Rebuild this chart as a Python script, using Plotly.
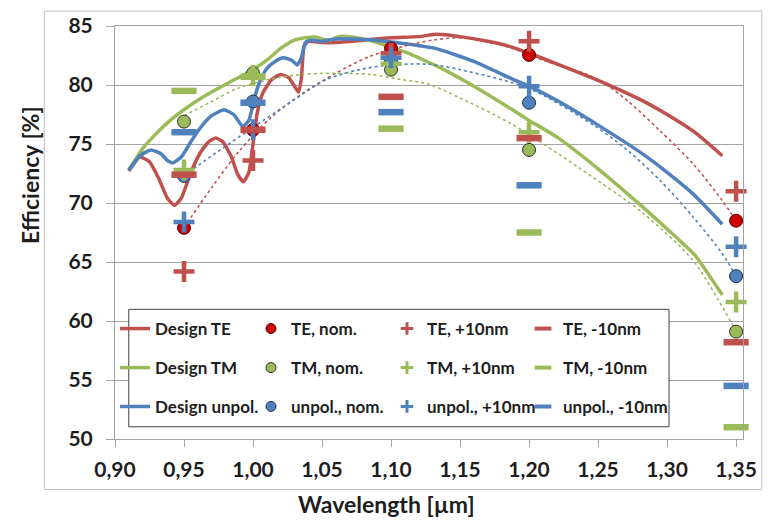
import plotly.graph_objects as go

# ---------------- data ----------------
# Design curves (solid)
te_x = [0.910, 0.918, 0.925, 0.932, 0.938, 0.943, 0.948, 0.955, 0.962, 0.968, 0.973, 0.978,
        0.984, 0.989, 0.993, 0.997, 1.000, 1.003, 1.007, 1.013, 1.020, 1.026, 1.030, 1.033,
        1.035, 1.037, 1.040, 1.050, 1.060, 1.080, 1.100, 1.120, 1.133, 1.150, 1.170, 1.185,
        1.200, 1.220, 1.250, 1.280, 1.300, 1.320, 1.340]
te_y = [72.7, 73.9, 73.5, 72.0, 70.4, 69.8, 70.4, 72.6, 74.3, 75.2, 75.5, 75.2,
        74.0, 72.4, 71.8, 72.6, 75.0, 77.6, 79.3, 80.4, 80.9, 80.6, 79.9, 79.4,
        80.5, 83.3, 83.7, 83.6, 83.6, 83.8, 84.0, 84.1, 84.3, 84.1, 83.7, 83.3,
        82.7, 81.8, 80.4, 78.8, 77.5, 76.0, 74.0]

tm_x = [0.910, 0.920, 0.930, 0.940, 0.950, 0.960, 0.970, 0.984, 1.000, 1.010, 1.020, 1.030,
        1.038, 1.046, 1.052, 1.056, 1.062, 1.070, 1.080, 1.090, 1.100, 1.110, 1.124, 1.140,
        1.160, 1.188, 1.200, 1.220, 1.250, 1.280, 1.300, 1.320, 1.340]
tm_y = [72.8, 74.6, 75.9, 77.0, 77.9, 78.7, 79.4, 80.3, 81.3, 82.1, 83.1, 83.8,
        84.0, 84.05, 83.85, 83.8, 84.1, 84.1, 83.9, 83.6, 83.2, 82.8, 82.1, 81.2,
        79.9, 77.9, 77.0, 75.6, 72.9, 69.9, 67.8, 65.6, 62.2]

un_x = [0.910, 0.918, 0.926, 0.933, 0.938, 0.942, 0.948, 0.955, 0.962, 0.970, 0.979, 0.986,
        0.9925, 0.997, 1.001, 1.005, 1.010, 1.016, 1.022, 1.028, 1.032, 1.035, 1.038, 1.042,
        1.050, 1.060, 1.070, 1.089, 1.110, 1.132, 1.160, 1.188, 1.200, 1.220, 1.250, 1.283,
        1.300, 1.319, 1.340]
un_y = [72.8, 74.0, 74.5, 74.2, 73.6, 73.4, 73.9, 75.2, 76.4, 77.4, 77.9, 77.5,
        76.5, 77.0, 78.9, 80.3, 81.4, 82.0, 82.3, 82.1, 81.7, 82.3, 83.6, 83.8,
        83.7, 83.9, 83.9, 83.8, 83.5, 83.1, 82.0, 80.5, 79.9, 78.7, 76.6, 74.1,
        72.6, 70.75, 68.2]

# Trend lines (dotted)
te_tr_x = [0.95, 0.97, 0.99, 1.0125, 1.036, 1.06, 1.084, 1.108, 1.13, 1.15, 1.17, 1.188,
           1.21, 1.248, 1.272, 1.295, 1.319, 1.34, 1.35]
te_tr_y = [67.9, 71.3, 74.4, 77.2, 79.3, 81.0, 82.4, 83.25, 83.8, 84.0, 83.7, 83.1,
           82.1, 80.6, 78.6, 76.1, 73.3, 70.2, 68.5]
tm_tr_x = [0.95, 0.97, 0.9885, 1.0125, 1.036, 1.06, 1.084, 1.108, 1.1265, 1.15, 1.188,
           1.236, 1.283, 1.319, 1.34, 1.35]
tm_tr_y = [77.4, 78.6, 79.7, 80.5, 80.9, 81.0, 80.9, 80.45, 80.1, 78.9, 76.65,
           73.0, 69.1, 65.1, 61.2, 59.1]
un_tr_x = [0.95, 0.97, 1.0, 1.03, 1.053, 1.077, 1.10, 1.127, 1.15, 1.20, 1.248, 1.272,
           1.295, 1.319, 1.34, 1.35]
un_tr_y = [72.3, 74.0, 76.4, 78.76, 80.45, 81.3, 81.7, 81.76, 81.3, 79.7, 76.5, 74.4,
           71.9, 68.8, 65.7, 63.8]

# Measured points
wl = [0.95, 1.00, 1.10, 1.20, 1.35]
te_nom = [67.9, 76.2, 83.1, 82.55, 68.5]
te_p10 = [64.2, 73.6, 82.7, 83.7, 71.0]
te_m10 = [72.4, 76.2, 79.0, 75.5, 58.2]
tm_nom = [76.9, 81.0, 81.3, 74.5, 59.1]
tm_p10 = [72.8, 80.8, 81.8, 76.0, 61.6]
tm_m10 = [79.5, 80.7, 76.3, 67.5, 51.0]
un_nom = [72.3, 78.6, 82.1, 78.5, 63.8]
un_p10 = [68.4, 76.2, 82.3, 79.9, 66.3]
un_m10 = [76.0, 78.5, 77.7, 71.5, 54.5]

x_ticks = [0.90, 0.95, 1.00, 1.05, 1.10, 1.15, 1.20, 1.25, 1.30, 1.35]
y_ticks = [50, 55, 60, 65, 70, 75, 80, 85]

# ---------------- styling ----------------
RED, GREEN, BLUE = '#C0504D', '#9BBB59', '#4F81BD'
FONT = 'Lato'
TXT = '#1e1e1e'

fig = go.Figure()
NONE = [None]

# design curves
for x, y, c, name, lg in [(te_x, te_y, RED, 'Design TE', 'legend'),
                          (tm_x, tm_y, GREEN, 'Design TM', 'legend2'),
                          (un_x, un_y, BLUE, 'Design unpol.', 'legend3')]:
    fig.add_trace(go.Scatter(x=x, y=y, mode='lines', name=name, legend=lg,
                             line=dict(color=c, width=3.5, shape='spline', smoothing=0.5)))

# trend lines
for x, y, c in [(te_tr_x, te_tr_y, RED), (tm_tr_x, tm_tr_y, GREEN), (un_tr_x, un_tr_y, BLUE)]:
    fig.add_trace(go.Scatter(x=x, y=y, mode='lines', showlegend=False, hoverinfo='skip',
                             line=dict(color=c, width=1.6, dash='dot', shape='spline', smoothing=0.8)))

circles = [(te_nom, '#CC0000', '#5a0000', 'TE, nom.', 'legend'),
           (tm_nom, GREEN, '#2e2e2e', 'TM, nom.', 'legend2'),
           (un_nom, BLUE, '#1f2f4a', 'unpol., nom.', 'legend3')]
pluses = [(te_p10, RED, 'TE, +10nm', 'legend'),
          (tm_p10, GREEN, 'TM, +10nm', 'legend2'),
          (un_p10, BLUE, 'unpol., +10nm', 'legend3')]
dashes = [(te_m10, RED, 'TE, -10nm', 'legend'),
          (tm_m10, GREEN, 'TM, -10nm', 'legend2'),
          (un_m10, BLUE, 'unpol., -10nm', 'legend3')]

# plotted markers (no legend)
for y, fill, edge, name, lg in circles:
    fig.add_trace(go.Scatter(x=wl, y=y, mode='markers', name=name, showlegend=False, cliponaxis=False,
                             marker=dict(symbol='circle', size=13, color=fill,
                                         line=dict(color=edge, width=1))))
for y, c, name, lg in pluses:
    fig.add_trace(go.Scatter(x=wl, y=y, mode='markers', name=name, showlegend=False, cliponaxis=False,
                             marker=dict(symbol='cross-thin', size=15, color=c,
                                         line=dict(color=c, width=4.5))))
for y, c, name, lg in dashes:
    fig.add_trace(go.Scatter(x=wl, y=y, mode='markers', name=name, showlegend=False, cliponaxis=False,
                             marker=dict(symbol='line-ew', size=18, color=c,
                                         line=dict(color=c, width=6.5))))

# legend entries with smaller symbols (as in the reference legend)
for y, fill, edge, name, lg in circles:
    fig.add_trace(go.Scatter(x=NONE, y=NONE, mode='markers', name=name, legend=lg,
                             marker=dict(symbol='circle', size=10, color=fill,
                                         line=dict(color=edge, width=1))))
for y, c, name, lg in pluses:
    fig.add_trace(go.Scatter(x=NONE, y=NONE, mode='markers', name=name, legend=lg,
                             marker=dict(symbol='cross-thin', size=9, color=c,
                                         line=dict(color=c, width=3))))
for y, c, name, lg in dashes:
    fig.add_trace(go.Scatter(x=NONE, y=NONE, mode='markers', name=name, legend=lg,
                             legendwidth=130,
                             marker=dict(symbol='line-ew', size=12, color=c,
                                         line=dict(color=c, width=4))))

legend_common = dict(orientation='h', xanchor='left', yanchor='middle', x=0.0,
                     bgcolor='rgba(0,0,0,0)', borderwidth=0, traceorder='normal',
                     entrywidth=91, entrywidthmode='pixels', itemwidth=30,
                     font=dict(family=FONT, size=17, color=TXT, weight='bold'))

grid_col = '#A3A3A3'
fig.update_layout(
    width=769, height=521,
    margin=dict(l=115, r=14.7, t=24.3, b=81.7),
    paper_bgcolor='white', plot_bgcolor='white',
    separators=',.',
    font=dict(family=FONT, size=20, color=TXT, weight='bold'),
    xaxis=dict(range=[0.9, 1.355], tickvals=x_ticks, tickformat='.2f',
               showgrid=False, zeroline=False, showline=True, linecolor=grid_col,
               linewidth=1, mirror=True, ticks='outside', ticklen=7, tickcolor=grid_col,
               ticklabelstandoff=5,
               tickfont=dict(family=FONT, size=21, color=TXT, weight='bold')),
    yaxis=dict(range=[50, 85], tickvals=y_ticks, showgrid=True, gridcolor=grid_col,
               gridwidth=1, zeroline=False, showline=True, linecolor=grid_col,
               linewidth=1, mirror=True, ticks='outside', ticklen=8, tickcolor=grid_col,
               ticklabelstandoff=9,
               tickfont=dict(family=FONT, size=21, color=TXT, weight='bold')),
    legend=dict(legend_common, y=0.2663),
    legend2=dict(legend_common, y=0.1718),
    legend3=dict(legend_common, y=0.0778),
    showlegend=True,
)

# legend box and chart border
fig.add_shape(type='rect', xref='paper', yref='paper', x0=0.0219, x1=0.8822, y0=0.0296, y1=0.314,
              fillcolor='white', line=dict(color='#404040', width=1), layer='above')
fig.add_shape(type='rect', xref='paper', yref='paper', x0=-0.1126, x1=1.03, y0=-0.1222, y1=1.0361,
              fillcolor='rgba(0,0,0,0)', line=dict(color='#BFBFBF', width=1), layer='below')

# axis titles
fig.add_annotation(text='Efficiency [%]', xref='paper', yref='paper', x=-0.136, y=0.638,
                   textangle=-90, showarrow=False, xanchor='center', yanchor='middle',
                   font=dict(family=FONT, size=23, color=TXT, weight='bold'))
fig.add_annotation(text='Wavelength [µm]', xref='paper', yref='paper', x=0.4317, y=-0.158,
                   showarrow=False, xanchor='center', yanchor='middle',
                   font=dict(family=FONT, size=23, color=TXT, weight='bold'))

fig.write_html('out.html')
